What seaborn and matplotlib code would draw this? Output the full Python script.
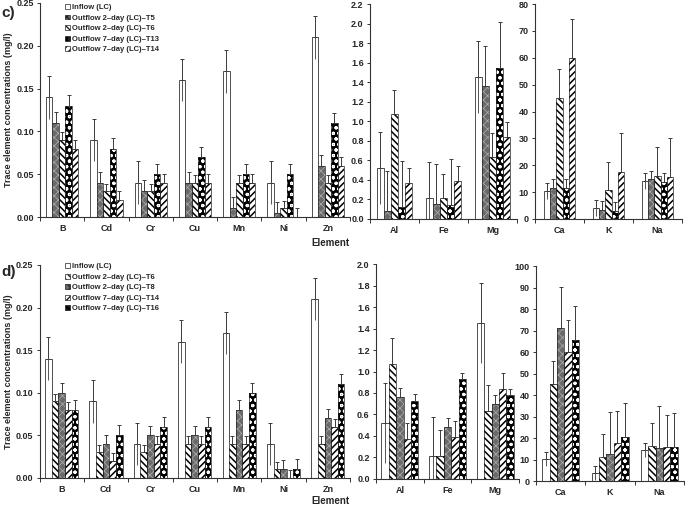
import numpy as np
import pandas as pd
import matplotlib
matplotlib.use("Agg")
import matplotlib.pyplot as plt
import seaborn as sns
from matplotlib.patches import Rectangle, Patch

trace = ["B", "Cd", "Cr", "Cu", "Mn", "Ni", "Zn"]
minor = ["Al", "Fe", "Mg"]
major = ["Ca", "K", "Na"]

series_c = ["Inflow (LC)", "Outflow 2–day (LC)–T5", "Outflow 2–day (LC)–T6",
            "Outflow 7–day (LC)–T13", "Outflow 7–day (LC)–T14"]
series_d = ["Inflow (LC)", "Outflow 2–day (LC)–T6", "Outflow 2–day (LC)–T8",
            "Outflow 7–day (LC)–T14", "Outflow 7–day (LC)–T16"]

# panel c, one row per series
c_trace = [[0.14, 0.09, 0.04, 0.16, 0.17, 0.04, 0.21],
           [0.11, 0.04, 0.03, 0.04, 0.01, 0.005, 0.06],
           [0.09, 0.03, 0.03, 0.04, 0.04, 0.01, 0.04],
           [0.13, 0.08, 0.05, 0.07, 0.05, 0.05, 0.11],
           [0.08, 0.02, 0.04, 0.04, 0.04, 0.0, 0.06]]
c_trace_err = [0.025, 0.013, 0.009, 0.012, 0.01]
c_minor = [[0.52, 0.21, 1.45],
           [0.08, 0.15, 1.36],
           [1.07, 0.21, 0.63],
           [0.12, 0.14, 1.55],
           [0.37, 0.39, 0.84]]
c_minor_err = [0.37, 0.41, 0.25, 0.47, 0.15]
c_major = [[10.4, 4.1, 14.1],
           [11.4, 3.4, 14.7],
           [45.2, 10.7, 16.1],
           [11.4, 2.9, 13.9],
           [60.0, 17.5, 15.5]]
c_major_err = [3.1, 3.3, 10.6, 3.3, 14.5]

# panel d
d_trace = [[0.14, 0.09, 0.04, 0.16, 0.17, 0.04, 0.21],
           [0.09, 0.03, 0.03, 0.04, 0.04, 0.01, 0.04],
           [0.10, 0.04, 0.05, 0.05, 0.08, 0.01, 0.07],
           [0.08, 0.02, 0.04, 0.04, 0.04, 0.0, 0.06],
           [0.08, 0.05, 0.06, 0.06, 0.10, 0.01, 0.11]]
d_trace_err = [0.025, 0.009, 0.011, 0.009, 0.012]
d_minor = [[0.52, 0.21, 1.45],
           [1.07, 0.21, 0.63],
           [0.76, 0.48, 0.70],
           [0.37, 0.39, 0.84],
           [0.73, 0.93, 0.78]]
d_minor_err = [0.37, 0.245, 0.083, 0.15, 0.06]
d_major = [[10.4, 3.8, 14.4],
           [45.0, 11.0, 16.1],
           [71.0, 12.8, 15.4],
           [60.0, 17.6, 15.8],
           [65.5, 20.3, 15.8]]
d_major_err = [3.2, 10.8, 19.3, 14.8, 16.0]

# bar looks: facecolor, hatch, hatch colour, hatch width
looks = {
    "inflow": ("white", None, "#333333", 0.6),
    "grey": ("#6a6a6a", "xxxx", "#b0b0b0", 0.5),
    "back": ("white", "\\\\\\\\\\", "black", 1.1),
    "fwd": ("white", "/////", "black", 1.1),
    "dots": ("black", "ooo", "white", 0.8),
}
look_c = ["inflow", "grey", "back", "dots", "fwd"]
look_d = ["inflow", "back", "grey", "fwd", "dots"]

sns.set_style("ticks")
plt.rcParams["font.family"] = ["Liberation Sans", "DejaVu Sans"]
plt.rcParams["font.weight"] = "bold"
plt.rcParams["hatch.linewidth"] = 1.0

fig = plt.figure(figsize=(6.85, 5.08), dpi=100)


def panel(rect, cats, series, values, errs, look, width, ylim, yticks, fmt):
    ax = fig.add_axes(rect)
    rows = []
    for s, vals in zip(series, values):
        for c, v in zip(cats, vals):
            rows.append({"element": c, "series": s, "value": v})
    df = pd.DataFrame(rows)
    sns.barplot(data=df, x="element", y="value", hue="series", order=cats,
                hue_order=series, errorbar=None, width=width, legend=False,
                palette=["white"] * len(series), saturation=1, ax=ax)
    conts = list(ax.containers)[:len(series)]
    for i, cont in enumerate(conts):
        fc, hatch, hc, hlw = looks[look[i]]
        xs, hs = [], []
        for bar in cont:
            bar.set_facecolor(fc)
            bar.set_zorder(2)
            if hatch:
                bar.set_hatch(hatch)
                bar.set_edgecolor(hc)
                bar.set_linewidth(0)
                if hasattr(bar, "set_hatch_linewidth"):
                    bar.set_hatch_linewidth(hlw)
                ax.add_patch(Rectangle(bar.get_xy(), bar.get_width(), bar.get_height(),
                                       fill=False, ec="#222222", lw=0.5, zorder=2.5))
            else:
                bar.set_edgecolor(hc)
                bar.set_linewidth(0.6)
            xs.append(bar.get_x() + bar.get_width() / 2)
            hs.append(bar.get_height())
        xs = np.array(xs)
        hs = np.array(hs)
        e = np.full(len(xs), errs[i])
        ax.errorbar(xs, hs, yerr=[np.zeros(len(xs)), e], fmt="none", ecolor="#3a3a3a",
                    elinewidth=0.7, capsize=1.6, capthick=0.7, zorder=3)
        if look[i] == "inflow":
            ax.vlines(xs, np.clip(hs - e, 0, None), hs, color="#555555", lw=0.7, zorder=3)
    n = len(cats)
    ax.set_xlim(-0.5, n - 0.5)
    ax.set_ylim(*ylim)
    ax.set_yticks(yticks)
    ax.set_yticklabels([fmt.format(t) for t in yticks], fontsize=6.5, fontweight="bold")
    ax.set_xticks(range(n))
    ax.set_xticklabels(cats, fontsize=6.5, fontweight="bold")
    ax.set_xticks(np.arange(-0.5, n), minor=True)
    ax.tick_params(axis="x", which="major", length=0, pad=5)
    ax.tick_params(axis="x", which="minor", length=3, width=0.7, color="#333333")
    ax.tick_params(axis="y", length=2.5, width=0.7, color="#333333", pad=2)
    ax.set_xlabel("")
    ax.set_ylabel("")
    for sp in ["left", "bottom"]:
        ax.spines[sp].set_color("#333333")
        ax.spines[sp].set_linewidth(0.8)
    sns.despine(ax=ax)
    return ax


def legend(series, look, y0):
    handles = []
    for s, k in zip(series, look):
        fc, hatch, hc, hlw = looks[k]
        handles.append(Patch(facecolor=fc, edgecolor="#222222", hatch=hatch, lw=0.5))
    fig.legend(handles=handles, labels=series, loc="upper left",
               bbox_to_anchor=(0.095, y0), frameon=False,
               handlelength=0.6, handleheight=0.6, handletextpad=0.25,
               labelspacing=0.45, borderpad=0, borderaxespad=0,
               prop={"weight": "bold", "size": 5.5})


# panel c
a1 = panel([0.0584, 0.5728, 0.4526, 0.4213], trace, series_c, c_trace, c_trace_err, look_c,
           0.73, (0, 0.25), np.arange(0, 0.2501, 0.05), "{:.2f}")
panel([0.5401, 0.5689, 0.2146, 0.4232], minor, series_c, c_minor, c_minor_err, look_c,
      0.72, (0, 2.2), np.arange(0, 2.201, 0.2), "{:.1f}")
panel([0.7810, 0.5689, 0.2146, 0.4232], major, series_c, c_major, c_major_err, look_c,
      0.63, (0, 80), np.arange(0, 81, 10), "{:.0f}")
a1.set_ylabel("Trace element concentrations (mg/l)", fontsize=6.5, fontweight="bold")
a1.yaxis.set_label_coords(-0.086, 0.5)
legend(series_c, look_c, 0.992)
fig.text(0.482, 1 - 243 / 508, "Element", fontsize=7, fontweight="bold", ha="center", va="center")
fig.text(0.002, 1 - 13 / 508, "c)", fontsize=11, fontweight="bold", ha="left", va="center")

# panel d
a4 = panel([0.0577, 0.0591, 0.4533, 0.4193], trace, series_d, d_trace, d_trace_err, look_d,
           0.75, (0, 0.25), np.arange(0, 0.2501, 0.05), "{:.2f}")
panel([0.5489, 0.0571, 0.2088, 0.4232], minor, series_d, d_minor, d_minor_err, look_d,
      0.77, (0, 2.0), np.arange(0, 2.001, 0.2), "{:.1f}")
panel([0.7825, 0.0531, 0.2161, 0.4232], major, series_d, d_major, d_major_err, look_d,
      0.75, (0, 100), np.arange(0, 101, 10), "{:.0f}")
a4.set_ylabel("Trace element concentrations (mg/l)", fontsize=6.5, fontweight="bold")
a4.yaxis.set_label_coords(-0.086, 0.5)
legend(series_d, look_d, 0.482)
fig.text(0.482, 1 - 501 / 508, "Element", fontsize=7, fontweight="bold", ha="center", va="center")
fig.text(0.002, 1 - 272 / 508, "d)", fontsize=11, fontweight="bold", ha="left", va="center")

fig.savefig("out.png", dpi=100)
